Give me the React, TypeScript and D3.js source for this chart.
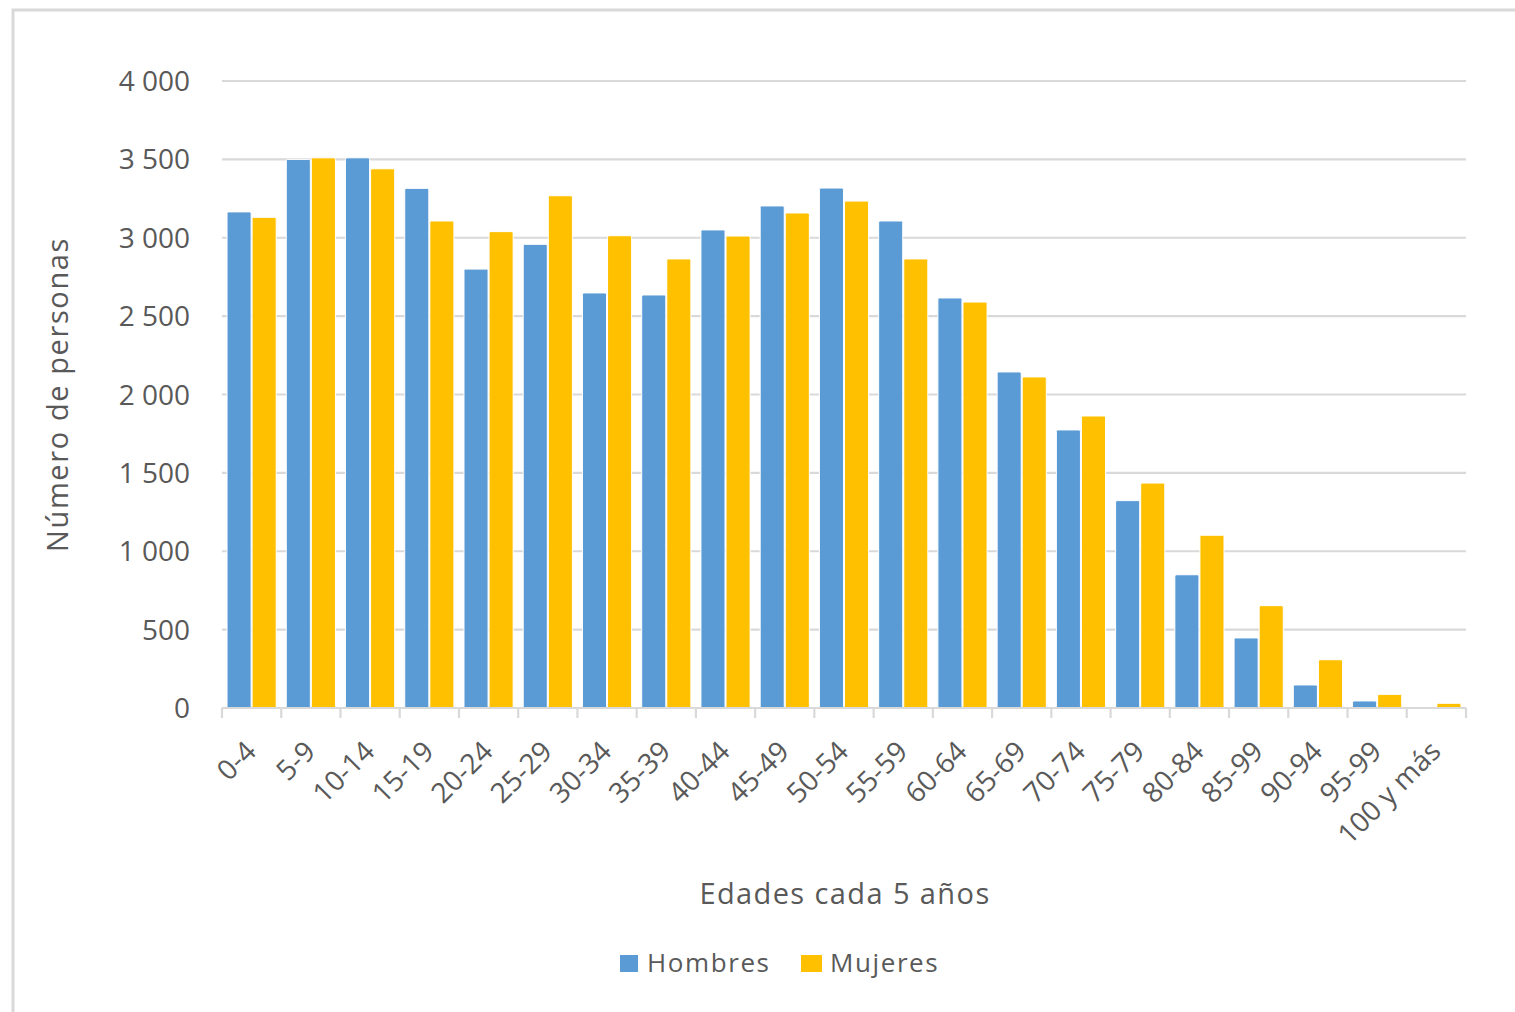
import React from "react";
import * as d3 from "d3";

const categories = ["0-4","5-9","10-14","15-19","20-24","25-29","30-34","35-39","40-44","45-49","50-54","55-59","60-64","65-69","70-74","75-79","80-84","85-99","90-94","95-99","100 y más"];
const hombres = [3165,3500,3510,3315,2800,2958,2648,2635,3050,3203,3317,3107,2616,2144,1774,1323,850,447,147,45,0];
const mujeres = [3130,3510,3440,3107,3039,3268,3013,2865,3011,3158,3234,2865,2590,2112,1863,1435,1102,653,308,87,30];
const yTicks = [0,500,1000,1500,2000,2500,3000,3500,4000];
const seriesNames = ["Hombres","Mujeres"];
const colors = ["#5B9BD5","#FFC000"];

const W = 1515, H = 1012;
const left = 222, right = 1466, top = 81, bottom = 708;
const font = "'Open Sans', 'Noto Sans', sans-serif";
const textColor = "#595959";

function fmt(v: number) {
  const s = String(v);
  return s.length > 3 ? s.slice(0, s.length - 3) + " " + s.slice(-3) : s;
}

export default function App() {
  const x = d3.scaleBand<string>().domain(categories).range([left, right]).padding(0);
  const y = d3.scaleLinear().domain([0, 4000]).range([bottom, top]);
  const bw = x.bandwidth();
  const inner = d3.scaleBand<string>().domain(seriesNames).range([bw * 0.085, bw * 0.915]).paddingInner(0.04);
  const data = [hombres, mujeres];
  return (
    <svg width={W} height={H} style={{ position: "absolute", left: 0, top: 0, background: "#fff" }}>
      <rect x={13} y={10} width={W + 10} height={H + 10} fill="#fff" stroke="#d9d9d9" strokeWidth={3} />
      {yTicks.map((t) => (
        <g key={t}>
          {t > 0 && <line x1={left} x2={right} y1={y(t)} y2={y(t)} stroke="#d9d9d9" strokeWidth={2.2} />}
          <text x={190} y={y(t)} dy="0.36em" textAnchor="end" fontFamily={font} fontSize={28} fill={textColor}>{fmt(t)}</text>
        </g>
      ))}
      {categories.map((c, i) => (
        <g key={c}>
          {seriesNames.map((s, j) => {
            const v = data[j][i];
            if (v <= 0) return null;
            return (
              <rect key={s} x={(x(c) as number) + (inner(s) as number)} y={y(v)} width={inner.bandwidth()} height={y(0) - y(v)}
                fill={colors[j]} stroke="#fff" strokeWidth={1} rx={1.5} />
            );
          })}
        </g>
      ))}
      <line x1={left} x2={right} y1={bottom} y2={bottom} stroke="#d9d9d9" strokeWidth={2.2} />
      {categories.concat([""]).map((c, i) => {
        const xx = left + i * bw;
        return <line key={"t" + i} x1={xx} x2={xx} y1={bottom} y2={bottom + 10} stroke="#d9d9d9" strokeWidth={2.2} />;
      })}
      {categories.map((c) => {
        const cx = (x(c) as number) + bw / 2 - 1;
        const cy = bottom + 38;
        return (
          <text key={"l" + c} x={cx} y={cy} textAnchor="end" fontFamily={font} fontSize={28} fill={textColor}
            transform={`rotate(-45 ${cx} ${cy})`} dy="0.36em">{c}</text>
        );
      })}
      <text x={0} y={0} transform={`translate(68 ${(top + bottom) / 2}) rotate(-90)`} textAnchor="middle" fontFamily={font} fontSize={29} letterSpacing={1.6} fill={textColor}>Número de personas</text>
      <text x={845} y={904} textAnchor="middle" fontFamily={font} fontSize={29} letterSpacing={1.4} fill={textColor}>Edades cada 5 años</text>
      <g>
        <rect x={620} y={955} width={18} height={17} fill={colors[0]} />
        <text x={647} y={972} fontFamily={font} fontSize={26} letterSpacing={1.6} fill={textColor}>{seriesNames[0]}</text>
        <rect x={801} y={955} width={21} height={17} fill={colors[1]} />
        <text x={830} y={972} fontFamily={font} fontSize={26} letterSpacing={1.6} fill={textColor}>{seriesNames[1]}</text>
      </g>
    </svg>
  );
}
